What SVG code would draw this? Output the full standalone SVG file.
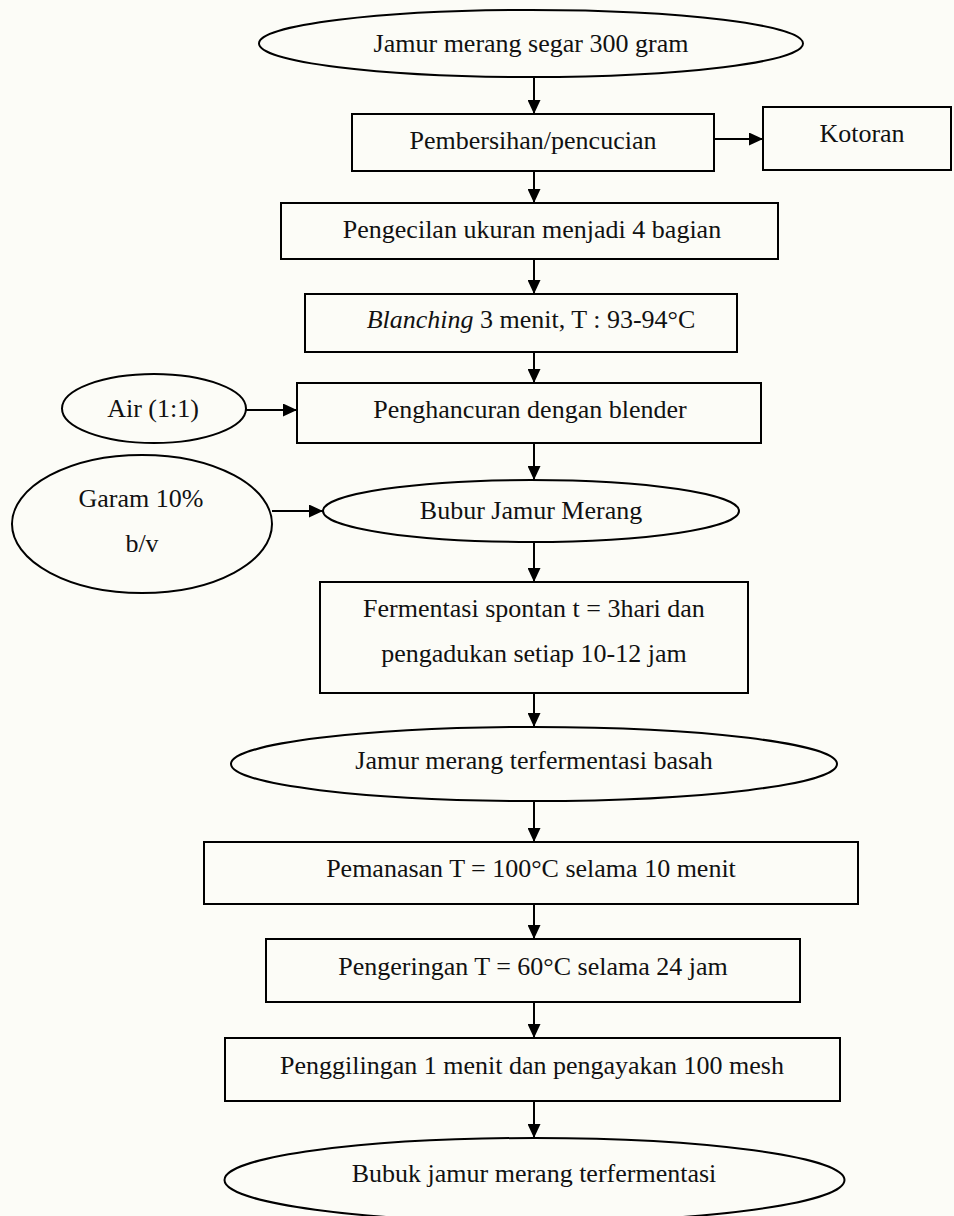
<svg xmlns="http://www.w3.org/2000/svg" width="954" height="1216" viewBox="0 0 954 1216">
<defs>
<marker id="ah" markerUnits="userSpaceOnUse" markerWidth="14" markerHeight="13" refX="14" refY="6.5" orient="auto">
<path d="M0,0 L14,6.5 L0,13 z" fill="#000"/>
</marker>
<style>
.n{fill:none;stroke:#000;stroke-width:2}
.t{font-family:"Liberation Serif","Times New Roman",serif;font-size:26px;fill:#111;text-anchor:middle}
.c{fill:none;stroke:#000;stroke-width:2;marker-end:url(#ah)}
</style>
</defs>
<rect x="0" y="0" width="954" height="1216" fill="#fcfcf7"/>
<g id="n1"><ellipse class="n" cx="531" cy="43.5" rx="272" ry="33.5"/><text class="t" x="531" y="52">Jamur merang segar 300 gram</text></g>
<g id="n2"><rect class="n" x="352" y="114" width="362" height="57"/><text class="t" x="533" y="149">Pembersihan/pencucian</text></g>
<g id="n3"><rect class="n" x="763" y="107" width="188" height="63"/><text class="t" x="862" y="142">Kotoran</text></g>
<g id="n4"><rect class="n" x="281" y="203" width="497" height="56"/><text class="t" x="532" y="238">Pengecilan ukuran menjadi 4 bagian</text></g>
<g id="n5"><rect class="n" x="305" y="294" width="432" height="58"/><text class="t" x="531" y="328"><tspan font-style="italic">Blanching</tspan> 3 menit, T : 93-94°C</text></g>
<g id="n6"><ellipse class="n" cx="154" cy="408.5" rx="92" ry="34.5"/><text class="t" x="153" y="417">Air (1:1)</text></g>
<g id="n7"><rect class="n" x="297" y="383" width="464" height="60"/><text class="t" x="530" y="418">Penghancuran dengan blender</text></g>
<g id="n8"><ellipse class="n" cx="531" cy="511" rx="208" ry="31"/><text class="t" x="531" y="519">Bubur Jamur Merang</text></g>
<g id="n9"><ellipse class="n" cx="142" cy="524" rx="130" ry="69"/><text class="t" x="141" y="507">Garam 10%</text><text class="t" x="142" y="552">b/v</text></g>
<g id="n10"><rect class="n" x="320" y="582" width="428" height="111"/><text class="t" x="534" y="617">Fermentasi spontan t = 3hari dan</text><text class="t" x="534" y="662">pengadukan setiap 10-12 jam</text></g>
<g id="n11"><ellipse class="n" cx="534" cy="764" rx="303" ry="37"/><text class="t" x="534" y="769">Jamur merang terfermentasi basah</text></g>
<g id="n12"><rect class="n" x="204" y="842" width="654" height="62"/><text class="t" x="531" y="877">Pemanasan T = 100°C selama 10 menit</text></g>
<g id="n13"><rect class="n" x="266" y="939" width="534" height="63"/><text class="t" x="533" y="975">Pengeringan T = 60°C selama 24 jam</text></g>
<g id="n14"><rect class="n" x="225" y="1038" width="615" height="63"/><text class="t" x="532" y="1074">Penggilingan 1 menit dan pengayakan 100 mesh</text></g>
<g id="n15"><ellipse class="n" cx="534.5" cy="1180" rx="310" ry="42"/><text class="t" x="534" y="1182">Bubuk jamur merang terfermentasi</text></g>
<g id="connectors">
<line class="c" x1="534" y1="77" x2="534" y2="114"/>
<line class="c" x1="714" y1="139" x2="763" y2="139"/>
<line class="c" x1="534" y1="171" x2="534" y2="203"/>
<line class="c" x1="534" y1="259" x2="534" y2="294"/>
<line class="c" x1="534" y1="352" x2="534" y2="383"/>
<line class="c" x1="246" y1="410" x2="297" y2="410"/>
<line class="c" x1="534" y1="443" x2="534" y2="480"/>
<line class="c" x1="272" y1="511" x2="323" y2="511"/>
<line class="c" x1="534" y1="542" x2="534" y2="582"/>
<line class="c" x1="534" y1="693" x2="534" y2="727"/>
<line class="c" x1="534" y1="801" x2="534" y2="842"/>
<line class="c" x1="534" y1="904" x2="534" y2="939"/>
<line class="c" x1="534" y1="1002" x2="534" y2="1038"/>
<line class="c" x1="534" y1="1101" x2="534" y2="1138"/>
</g>
</svg>
